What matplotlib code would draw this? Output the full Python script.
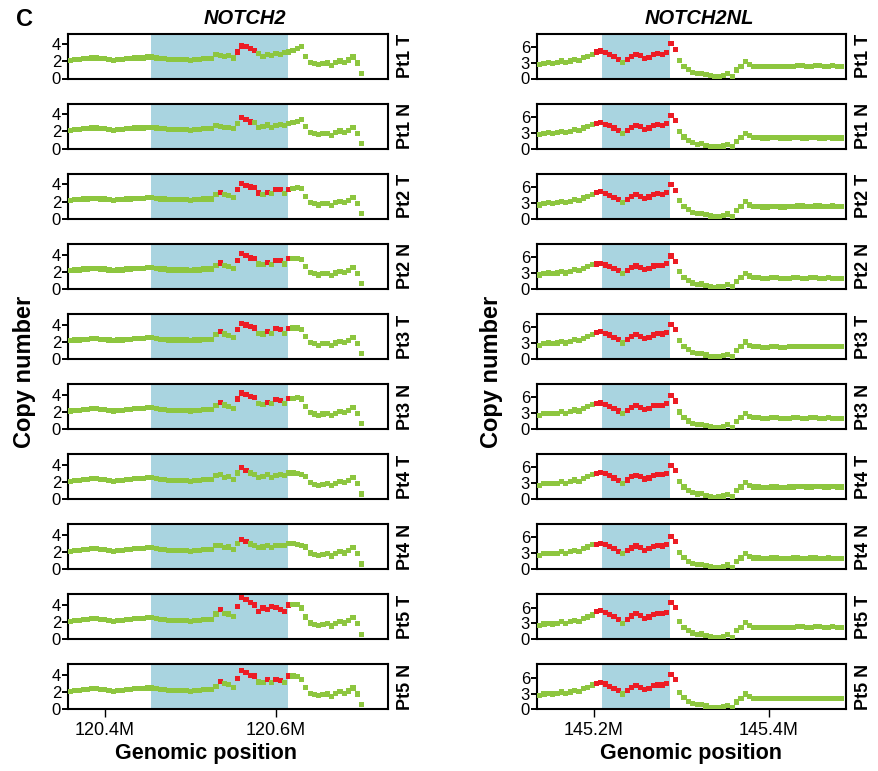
import matplotlib
matplotlib.use("Agg")
import matplotlib.pyplot as plt
from matplotlib.ticker import FuncFormatter

plt.rcParams['font.family'] = ['Liberation Sans', 'DejaVu Sans']

GREEN = '#8dc63f'
RED = '#ec1c24'
SHADE = '#a9d4e0'

samples = ['Pt1 T', 'Pt1 N', 'Pt2 T', 'Pt2 N', 'Pt3 T', 'Pt3 N', 'Pt4 T', 'Pt4 N', 'Pt5 T', 'Pt5 N']

# ---- NOTCH2 (Mb) ----
n2_pos = [120.360, 120.365, 120.370, 120.375, 120.380, 120.385, 120.390, 120.395, 120.400, 120.405,
          120.410, 120.415, 120.420, 120.425, 120.430, 120.435, 120.440, 120.445, 120.450, 120.455,
          120.460, 120.465, 120.470, 120.475, 120.480, 120.485, 120.490, 120.495, 120.500, 120.505,
          120.510, 120.515, 120.520, 120.525, 120.530, 120.535, 120.540, 120.545, 120.550, 120.555,
          120.560, 120.565, 120.570, 120.575, 120.580, 120.585, 120.590, 120.595, 120.600, 120.605,
          120.610, 120.615, 120.620, 120.625, 120.630, 120.635, 120.640, 120.645, 120.650, 120.655,
          120.660, 120.665, 120.670, 120.675, 120.680, 120.685, 120.690, 120.695, 120.700]
n2_shade = (120.454, 120.614)
n2_flank = [2.1, 2.2, 2.2, 2.3, 2.3, 2.4, 2.4, 2.3, 2.3, 2.2, 2.1, 2.2, 2.2, 2.3, 2.3, 2.4, 2.4,
            2.4, 2.5, 2.5, 2.4, 2.3, 2.3, 2.2, 2.2, 2.2, 2.2, 2.2, 2.1, 2.2, 2.2, 2.3, 2.3, 2.3]
n2_tail = [2.6, 1.9, 1.75, 1.6, 1.75, 1.8, 1.55, 1.85, 2.05, 1.9, 2.15, 2.5, 1.8, 0.6]

n2_pt1_t = [2.8, 2.7, 2.6, 2.7, 2.4, 3.1, 3.8, 3.7, 3.5, 3.3, 2.9, 2.6, 2.8, 2.7, 2.9, 2.8, 3.0, 3.1, 3.3, 3.5, 3.7]
n2_pt1_n = [2.7, 2.6, 2.45, 2.5, 2.3, 2.9, 3.6, 3.4, 3.1, 3.0, 2.5, 2.6, 2.75, 2.5, 2.7, 2.8, 2.7, 2.9, 3.0, 3.2, 3.4]
n2_pt2_t = [2.85, 3.1, 2.85, 2.7, 2.5, 3.4, 4.15, 3.9, 3.7, 3.65, 3.0, 2.85, 3.1, 2.9, 3.4, 3.4, 2.9, 3.4, 3.5, 3.6, 3.5]
n2_pt2_n = [2.7, 3.0, 2.75, 2.6, 2.4, 3.3, 4.1, 3.9, 3.6, 3.5, 2.9, 2.8, 3.1, 2.85, 3.3, 3.3, 2.9, 3.5, 3.5, 3.55, 3.4]
n2_pt3_t = [2.8, 3.2, 2.9, 2.75, 2.5, 3.4, 4.1, 3.95, 3.75, 3.6, 3.0, 2.9, 3.2, 2.95, 3.5, 3.4, 3.0, 3.5, 3.6, 3.6, 3.4]
n2_pt3_n = [2.7, 3.1, 2.8, 2.6, 2.4, 3.5, 4.2, 4.0, 3.8, 3.7, 3.0, 2.9, 3.1, 3.0, 3.4, 3.3, 2.95, 3.6, 3.6, 3.65, 3.5]
n2_pt4_t = [2.8, 2.85, 2.55, 2.65, 2.3, 3.05, 3.7, 3.3, 3.05, 2.85, 2.55, 2.65, 2.85, 2.55, 2.8, 2.85, 2.8, 3.05, 3.05, 2.95, 2.85]
n2_pt4_n = [2.75, 2.8, 2.5, 2.6, 2.3, 3.0, 3.5, 3.2, 2.95, 2.8, 2.5, 2.6, 2.8, 2.5, 2.75, 2.8, 2.75, 3.0, 3.0, 2.9, 2.8]
n2_pt5_t = [2.95, 3.45, 3.05, 2.95, 2.7, 3.85, 4.9, 4.6, 4.25, 4.0, 3.25, 3.65, 3.45, 3.85, 3.75, 3.45, 3.2, 4.0, 4.05, 4.05, 3.65]
n2_pt5_n = [2.7, 3.3, 3.0, 2.9, 2.6, 3.6, 4.55, 4.3, 4.0, 3.9, 3.2, 3.1, 3.45, 3.1, 3.45, 3.4, 3.1, 3.9, 3.9, 3.8, 3.5]

# amplified probes (index within the core lists above)
n2_red_pt1_t = [5, 6, 7, 8, 9]
n2_red_pt1_n = [6, 7, 8]
n2_red_mixed = [1, 5, 6, 7, 8, 9, 12, 14, 15, 17]
n2_red_pt2_t = [1, 5, 6, 7, 8, 9, 10, 12, 14, 15, 17]
n2_red_pt4 = [6, 7]
n2_red_pt5_t = [1, 5, 6, 7, 8, 9, 10, 11, 12, 13, 14, 15, 16, 17]

# ---- NOTCH2NL (Mb) ----
nl_pos = [145.138, 145.143, 145.148, 145.153, 145.158, 145.163, 145.168, 145.173, 145.178, 145.183,
          145.188, 145.193, 145.198, 145.203, 145.208, 145.213, 145.218, 145.223, 145.228, 145.233,
          145.238, 145.243, 145.248, 145.253, 145.258, 145.263, 145.268, 145.273, 145.278, 145.283,
          145.288, 145.293, 145.298, 145.303, 145.308, 145.313, 145.318, 145.323, 145.328, 145.333,
          145.338, 145.343, 145.348, 145.353, 145.358, 145.363, 145.368, 145.373, 145.378, 145.383,
          145.388, 145.393, 145.398, 145.403, 145.408, 145.413, 145.418, 145.423, 145.428, 145.433,
          145.438, 145.443, 145.448, 145.453, 145.458, 145.463, 145.468, 145.473, 145.478, 145.483]
nl_shade = (145.209, 145.287)
nl_front = [2.6, 2.9, 3.0, 2.9, 3.0, 3.3, 3.0, 3.3, 3.6, 3.4, 3.9, 4.2, 4.6]
nl_tail_t = [3.4, 2.3, 1.7, 1.2, 0.95, 1.0, 0.75, 0.5, 0.35, 0.4, 0.6, 0.9, 0.4, 1.6, 2.3, 3.2, 2.6,
             2.3, 2.3, 2.2, 2.2, 2.3, 2.3, 2.2, 2.2, 2.3, 2.3, 2.4, 2.4, 2.3, 2.3, 2.4, 2.4, 2.3, 2.3,
             2.4, 2.3, 2.3]
nl_tail_n = [3.2, 2.2, 1.5, 1.1, 0.85, 0.9, 0.65, 0.4, 0.3, 0.35, 0.5, 0.8, 0.35, 1.4, 2.1, 2.9, 2.4,
             2.1, 2.1, 2.0, 2.0, 2.1, 2.1, 2.0, 2.0, 2.0, 2.1, 2.1, 2.0, 2.0, 2.1, 2.1, 2.0, 2.0,
             2.1, 2.0, 2.0, 2.0]

nl_pt1_t = [5.0, 5.2, 4.9, 4.5, 4.1, 3.6, 3.0, 3.6, 4.2, 4.6, 4.3, 3.8, 4.0, 4.5, 4.7, 4.6, 4.9, 6.6, 5.5]
nl_pt1_n = [4.7, 4.9, 4.6, 4.3, 3.9, 3.4, 2.9, 3.4, 4.0, 4.4, 4.1, 3.6, 3.9, 4.3, 4.5, 4.4, 4.7, 6.2, 5.3]
nl_pt2_t = [5.0, 5.1, 4.8, 4.4, 4.0, 3.6, 3.0, 3.7, 4.2, 4.6, 4.2, 3.8, 4.1, 4.5, 4.7, 4.6, 5.0, 6.5, 5.4]
nl_pt2_n = [4.7, 4.8, 4.5, 4.2, 3.8, 3.4, 2.9, 3.5, 4.0, 4.3, 4.0, 3.6, 3.9, 4.3, 4.4, 4.4, 4.8, 6.2, 5.2]
nl_pt3_t = [5.0, 5.2, 4.8, 4.5, 4.1, 3.6, 3.0, 3.7, 4.3, 4.6, 4.3, 3.8, 4.1, 4.5, 4.8, 4.7, 5.0, 6.5, 5.5]
nl_pt3_n = [4.8, 4.9, 4.6, 4.3, 3.9, 3.4, 2.9, 3.5, 4.1, 4.4, 4.1, 3.7, 3.9, 4.4, 4.5, 4.5, 4.8, 6.3, 5.3]
nl_pt4_t = [4.9, 5.1, 4.8, 4.4, 4.0, 3.5, 3.0, 3.6, 4.2, 4.5, 4.2, 3.8, 4.0, 4.5, 4.6, 4.6, 4.9, 6.4, 5.4]
nl_pt4_n = [4.7, 4.9, 4.6, 4.3, 3.9, 3.4, 2.9, 3.5, 4.0, 4.4, 4.1, 3.6, 3.9, 4.3, 4.5, 4.4, 4.7, 6.2, 5.3]
nl_pt5_t = [5.3, 5.5, 5.1, 4.7, 4.3, 3.8, 3.0, 3.8, 4.4, 4.8, 4.5, 4.0, 4.2, 4.7, 4.9, 4.8, 5.1, 7.0, 6.0]
nl_pt5_n = [4.9, 5.1, 4.8, 4.4, 4.0, 3.5, 2.9, 3.6, 4.2, 4.5, 4.2, 3.7, 4.0, 4.5, 4.6, 4.6, 4.9, 6.6, 5.6]
nl_red = [0, 1, 2, 3, 4, 5, 7, 8, 9, 10, 11, 12, 13, 14, 15, 16, 17, 18]

n2_cores = [n2_pt1_t, n2_pt1_n, n2_pt2_t, n2_pt2_n, n2_pt3_t, n2_pt3_n, n2_pt4_t, n2_pt4_n, n2_pt5_t, n2_pt5_n]
n2_reds = [n2_red_pt1_t, n2_red_pt1_n, n2_red_pt2_t, n2_red_mixed, n2_red_mixed, n2_red_mixed,
           n2_red_pt4, n2_red_pt4, n2_red_pt5_t, n2_red_mixed]
nl_cores = [nl_pt1_t, nl_pt1_n, nl_pt2_t, nl_pt2_n, nl_pt3_t, nl_pt3_n, nl_pt4_t, nl_pt4_n, nl_pt5_t, nl_pt5_n]

W, H = 879, 771
fig = plt.figure(figsize=(W / 100, H / 100), dpi=100)


def panel(px_left, px_width, row):
    top = 33.5 + 70.1 * row
    return fig.add_axes([px_left / W, 1 - (top + 45) / H, px_width / W, 45 / H])


def draw(ax, pos, vals, red, shade, xlim, ylim, yticks, label, bottom, xticks):
    colors = [RED if i in red else GREEN for i in range(len(vals))]
    ax.axvspan(shade[0], shade[1], color=SHADE, lw=0, zorder=1)
    ax.scatter(pos, vals, c=colors, marker='s', s=14, linewidths=0, zorder=3)
    ax.set_xlim(xlim)
    ax.set_ylim(ylim)
    ax.set_yticks(yticks)
    ax.tick_params(axis='y', length=4, width=1.4, pad=1, labelsize=12)
    for sp in ax.spines.values():
        sp.set_linewidth(1.5)
    if bottom:
        ax.set_xticks(xticks)
        ax.xaxis.set_major_formatter(FuncFormatter(lambda v, p: f'{v:.1f}M'))
        ax.tick_params(axis='x', length=6, width=1.0, pad=3, labelsize=13)
    else:
        ax.set_xticks([])
    ax.text(1.056, 0.5, label, transform=ax.transAxes, rotation=90, ha='center', va='center',
            fontsize=13, fontweight='bold')


for r, name in enumerate(samples):
    # NOTCH2
    vals = n2_flank + n2_cores[r] + n2_tail
    red = [i + len(n2_flank) for i in n2_reds[r]]
    ax = panel(68, 320, r)
    draw(ax, n2_pos, vals, red, n2_shade, (120.357, 120.731), (0, 5.25), [0, 2, 4], name,
         r == len(samples) - 1, [120.4, 120.6])
    # NOTCH2NL
    tail = nl_tail_t if name.endswith('T') else nl_tail_n
    vals = nl_front + nl_cores[r] + tail
    red = [i + len(nl_front) for i in nl_red]
    ax = panel(537, 309, r)
    draw(ax, nl_pos, vals, red, nl_shade, (145.135, 145.488), (0, 8.5), [0, 3, 6], name,
         r == len(samples) - 1, [145.2, 145.4])

fig.text(25 / W, 1 - 20 / H, 'C', fontsize=17, fontweight='bold', ha='center', va='center')
fig.text(245 / W, 1 - 19 / H, 'NOTCH2', fontsize=14.5, fontweight='bold', style='italic',
         ha='center', va='center')
fig.text(699 / W, 1 - 19 / H, 'NOTCH2NL', fontsize=14.5, fontweight='bold', style='italic',
         ha='center', va='center')
fig.text(25 / W, 1 - 372 / H, 'Copy number', rotation=90, fontsize=17, fontweight='bold',
         ha='center', va='center')
fig.text(492 / W, 1 - 372 / H, 'Copy number', rotation=90, fontsize=17, fontweight='bold',
         ha='center', va='center')
fig.text(206 / W, 1 - 754 / H, 'Genomic position', fontsize=15.5, fontweight='bold',
         ha='center', va='center')
fig.text(691 / W, 1 - 754 / H, 'Genomic position', fontsize=15.5, fontweight='bold',
         ha='center', va='center')

fig.savefig('out.png', dpi=100)
